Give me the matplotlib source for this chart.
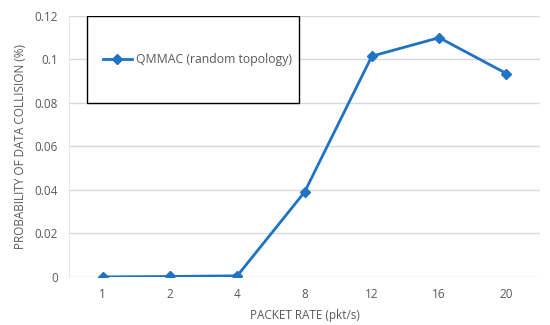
import numpy as np
import matplotlib.pyplot as plt
from matplotlib.patches import Rectangle

# data
rates = ['1', '2', '4', '8', '12', '16', '20']
collision = [0.0, 0.0002, 0.0005, 0.039, 0.1015, 0.110, 0.0935]

plt.rcParams['font.family'] = ['Open Sans', 'DejaVu Sans']
txt_col = '#595959'
blue = '#1f72c4'

fig, ax = plt.subplots(figsize=(5.5, 3.25), dpi=100)
fig.subplots_adjust(left=0.1255, right=0.982, top=0.951, bottom=0.148)

x = np.arange(len(rates))
line, = ax.plot(x, collision, color=blue, lw=2.0, marker='D', ms=5.5,
                label='QMMAC (random topology)', zorder=3)

ax.set_xlim(-0.5, len(rates) - 0.5)
ax.set_ylim(0, 0.12)
ax.set_xticks(x)
ax.set_xticklabels(rates)
ax.set_yticks([0, 0.02, 0.04, 0.06, 0.08, 0.1, 0.12])
ax.set_yticklabels(['0', '0.02', '0.04', '0.06', '0.08', '0.1', '0.12'])
ax.tick_params(length=0, labelsize=8.5, colors=txt_col, pad=8)
ax.yaxis.grid(True, color='#d9d9d9', lw=1.0)
ax.set_axisbelow(True)
for s in ['top', 'right', 'bottom']:
    ax.spines[s].set_visible(False)
ax.spines['left'].set_color('#e6e6e6')

ax.set_xlabel('PACKET RATE (pkt/s)', fontsize=8.5, color=txt_col, labelpad=6)
ax.set_ylabel('PROBABILITY OF DATA COLLISION (%)', fontsize=8.5, color=txt_col, labelpad=5)

# legend box
box = Rectangle((0.038, 0.667), 0.45, 0.333, transform=ax.transAxes,
                facecolor='white', edgecolor='black', lw=1.0, zorder=4)
ax.add_patch(box)
leg = ax.legend(handles=[line], loc='center left', bbox_to_anchor=(0.048, 0.833),
                frameon=False, fontsize=8.8, handlelength=2.4, handletextpad=0.3)
leg.set_zorder(5)
for t in leg.get_texts():
    t.set_color(txt_col)

fig.savefig('out.png', dpi=100)
